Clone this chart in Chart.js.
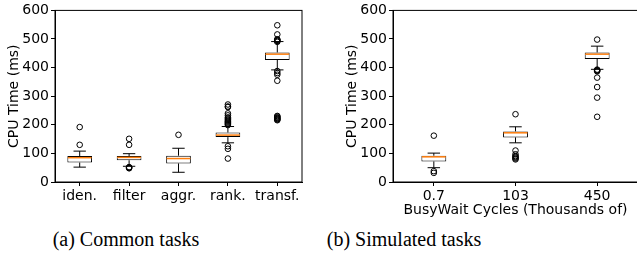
<!DOCTYPE html>
<html>
<head>
<meta charset="utf-8">
<script src="https://cdn.jsdelivr.net/npm/chart.js@4"></script>
<style>
  html, body { margin: 0; padding: 0; background: #fff; overflow: hidden; width: 637px; height: 258px; }
  canvas { position: absolute; top: 0; }
  .cap { position: absolute; top: 228px; font-family: "Liberation Serif", "Times New Roman", serif; font-size: 20px; color: #000; white-space: nowrap; transform: translateX(-50%); }
</style>
</head>
<body>
<canvas id="common" width="318" height="206" style="left:0px"></canvas>
<canvas id="simulated" width="325" height="225" style="left:318px"></canvas>
<div class="cap" style="left:126px">(a) Common tasks</div>
<div class="cap" style="left:404px">(b) Simulated tasks</div>
<script>
// (a) common tasks
const commonLabels = ['iden.', 'filter', 'aggr.', 'rank.', 'transf.'];
const commonLow = [52, 55, 34, 137, 392];
const commonQ1 = [68, 76, 65, 157, 427];
const commonMedian = [85, 86, 82, 164, 447];
const commonQ3 = [91, 91, 92, 173, 453];
const commonHigh = [108, 99, 118, 194, 491];
const commonOutliers = [
  [130, 192],
  [48, 49, 51, 52, 130, 151],
  [165],
  [82, 116, 125, 199, 202, 205, 208, 211, 214, 218, 222, 226, 233, 240, 262, 264, 271],
  [216, 218, 220, 222, 224, 226, 229, 231, 354, 375, 381, 388, 490, 493, 495, 497, 499, 516, 548]
];

// (b) simulated tasks
const simLabels = ['0.7', '103', '450'];
const simLow = [50, 137, 394];
const simQ1 = [72, 156, 430];
const simMedian = [88, 172, 447];
const simQ3 = [92, 177, 453];
const simHigh = [101, 193, 475];
const simOutliers = [
  [32, 38, 162],
  [79, 82, 85, 88, 91, 97, 110, 237],
  [228, 295, 332, 365, 387, 389, 391, 393, 498]
];

const yTicks = [0, 100, 200, 300, 400, 500, 600];

// whiskers, caps and medians, drawn with the chart's own scales
function boxPlugin(low, high, median) {
  return {
    id: 'boxes',
    afterDatasetsDraw(chart) {
      const ctx = chart.ctx;
      const meta = chart.getDatasetMeta(0);
      const y = chart.scales.y;
      ctx.save();
      meta.data.forEach((bar, i) => {
        const x = bar.x;
        const w = bar.width;
        const raw = chart.data.datasets[0].data[i];
        const yq1 = y.getPixelForValue(raw[0]);
        const yq3 = y.getPixelForValue(raw[1]);
        const yLo = y.getPixelForValue(low[i]);
        const yHi = y.getPixelForValue(high[i]);
        ctx.strokeStyle = '#000';
        ctx.lineWidth = 1;
        ctx.beginPath();
        ctx.moveTo(x, yq3); ctx.lineTo(x, yHi);
        ctx.moveTo(x, yq1); ctx.lineTo(x, yLo);
        ctx.moveTo(x - w / 4, yHi); ctx.lineTo(x + w / 4, yHi);
        ctx.moveTo(x - w / 4, yLo); ctx.lineTo(x + w / 4, yLo);
        ctx.stroke();
        const ym = y.getPixelForValue(median[i]);
        ctx.strokeStyle = '#ff7f0e';
        ctx.lineWidth = 1.5;
        ctx.beginPath();
        ctx.moveTo(x - w / 2 + 0.5, ym); ctx.lineTo(x + w / 2 - 0.5, ym);
        ctx.stroke();
      });
      ctx.restore();
    }
  };
}

const frame = {
  id: 'frame',
  afterDraw(chart) {
    const a = chart.chartArea;
    const ctx = chart.ctx;
    ctx.save();
    ctx.strokeStyle = '#000';
    ctx.lineWidth = 1;
    ctx.strokeRect(a.left, a.top, a.right - a.left, a.bottom - a.top);
    ctx.restore();
  }
};

function makeChart(id, labels, low, q1, median, q3, high, outliers, barPct, padLeft, padRight, xTitle, xHeight) {
  const boxes = q1.map((v, i) => [v, q3[i]]);
  const points = outliers.flatMap((vals, i) => vals.map(v => ({ x: labels[i], y: v })));
  return new Chart(document.getElementById(id), {
    type: 'bar',
    data: {
      labels: labels,
      datasets: [{
        data: boxes,
        backgroundColor: '#fff',
        borderColor: '#000',
        borderWidth: 1,
        borderSkipped: false,
        barPercentage: barPct,
        categoryPercentage: 1,
        grouped: false
      }, {
        type: 'line',
        data: points,
        showLine: false,
        pointRadius: 2.8,
        pointBorderWidth: 1,
        pointBorderColor: '#000',
        pointBackgroundColor: 'rgba(0,0,0,0)'
      }]
    },
    options: {
      responsive: false,
      animation: false,
      layout: { padding: { top: 8, left: padLeft, right: padRight, bottom: 0 } },
      plugins: { legend: { display: false }, tooltip: { enabled: false } },
      scales: {
        x: {
          grid: { offset: false, drawOnChartArea: false, drawTicks: true, tickLength: 4, color: '#000' },
          border: { display: true, color: '#000' },
          ticks: { color: '#000', padding: 2, autoSkip: false, maxRotation: 0, minRotation: 0, font: { family: 'DejaVu Sans', size: 14 } },
          title: { display: !!xTitle, text: xTitle, color: '#000', padding: { top: 0, bottom: 6 }, font: { family: 'DejaVu Sans', size: 14 } },
          afterFit: s => { s.height = xHeight; }
        },
        y: {
          min: 0, max: 600,
          afterBuildTicks: s => { s.ticks = yTicks.map(v => ({ value: v })); },
          grid: { drawOnChartArea: false, drawTicks: true, tickLength: 4, color: '#000' },
          border: { display: true, color: '#000' },
          ticks: { color: '#000', padding: 2, font: { family: 'DejaVu Sans', size: 14 } },
          title: { display: true, text: 'CPU Time (ms)', color: '#000', padding: { top: 6, bottom: 0 }, font: { family: 'DejaVu Sans', size: 14 } },
          afterFit: s => { s.width = 55; }
        }
      }
    },
    plugins: [boxPlugin(low, high, median), frame]
  });
}

makeChart('common', commonLabels, commonLow, commonQ1, commonMedian, commonQ3, commonHigh, commonOutliers, 0.5, 0, 16, '', 24);
makeChart('simulated', simLabels, simLow, simQ1, simMedian, simQ3, simHigh, simOutliers, 0.305, 20, 4, 'BusyWait Cycles (Thousands of)', 43);
</script>
</body>
</html>
